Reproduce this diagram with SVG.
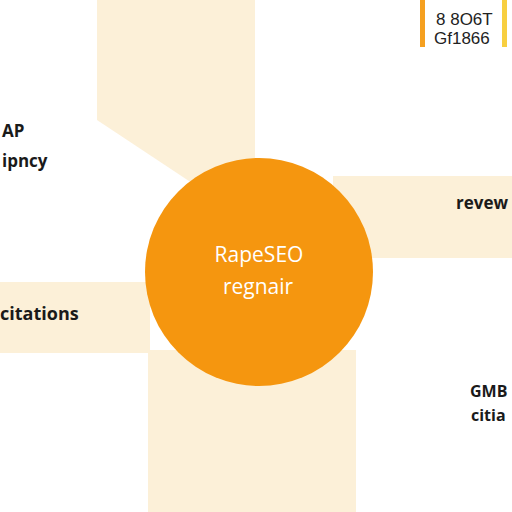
<svg xmlns="http://www.w3.org/2000/svg" width="512" height="512" viewBox="0 0 512 512">
<style>
.band{fill:#FCF0D8}
.lbl{font-family:"Open Sans","Liberation Sans",sans-serif;font-weight:700;fill:#1a1a1a}
.leg{font-family:"Liberation Sans",sans-serif;fill:#222222;font-size:17px}
.ctr{font-family:"Open Sans","Liberation Sans",sans-serif;fill:#ffffff;font-size:21px;text-anchor:middle}
</style>
<rect width="512" height="512" fill="#ffffff"/>
<g id="connectors">
<polygon class="band" points="97,0 255,0 255,185 195,185 97,120"/>
<rect class="band" x="333" y="176" width="179" height="82"/>
<rect class="band" x="0" y="282" width="150" height="71"/>
<rect class="band" x="148" y="350" width="208" height="162"/>
</g>
<g id="legend">
<rect x="420" y="0" width="5" height="47" fill="#F5A020"/>
<rect x="502" y="0" width="5" height="47" fill="#F8CF40"/>
<text class="leg" x="436" y="25">8 8O6T</text>
<text class="leg" x="434" y="44">Gf1866</text>
</g>
<g id="center">
<circle cx="259" cy="272" r="114" fill="#F5960F"/>
<text class="ctr" x="259" y="262">RapeSEO</text>
<text class="ctr" x="258" y="294">regnair</text>
</g>
<g id="node-top-left">
<text class="lbl" x="2" y="137" font-size="17">AP</text>
<text class="lbl" x="2" y="167" font-size="17">ipncy</text>
</g>
<g id="node-left">
<text class="lbl" x="0" y="320" font-size="18">citations</text>
</g>
<g id="node-right">
<text class="lbl" x="456" y="209" font-size="17">revew</text>
</g>
<g id="node-bottom-right">
<text class="lbl" x="470" y="397" font-size="16">GMB</text>
<text class="lbl" x="471" y="421" font-size="16">citia</text>
</g>
</svg>
